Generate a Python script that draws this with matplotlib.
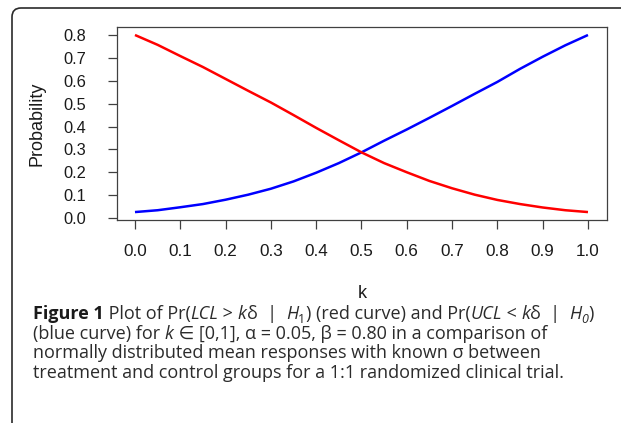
import matplotlib
matplotlib.use("Agg")
import matplotlib.pyplot as plt
from matplotlib.patches import FancyBboxPatch
from matplotlib.transforms import IdentityTransform

# ---------------- data ----------------
k_values = [0.00, 0.05, 0.10, 0.15, 0.20, 0.25, 0.30, 0.35, 0.40, 0.45, 0.50,
            0.55, 0.60, 0.65, 0.70, 0.75, 0.80, 0.85, 0.90, 0.95, 1.00]
red_curve = [0.800, 0.757, 0.708, 0.660, 0.608, 0.556, 0.505, 0.450, 0.394, 0.340, 0.287,
             0.240, 0.200, 0.162, 0.130, 0.102, 0.079, 0.061, 0.046, 0.034, 0.026]
blue_curve = [0.026, 0.034, 0.047, 0.061, 0.080, 0.102, 0.128, 0.160, 0.198, 0.240, 0.287,
              0.338, 0.387, 0.438, 0.490, 0.543, 0.595, 0.652, 0.705, 0.755, 0.800]
x_ticks = [0.0, 0.1, 0.2, 0.3, 0.4, 0.5, 0.6, 0.7, 0.8, 0.9, 1.0]
x_tick_labels = ["0.0", "0.1", "0.2", "0.3", "0.4", "0.5", "0.6", "0.7", "0.8", "0.9", "1.0"]
y_ticks = [0.0, 0.1, 0.2, 0.3, 0.4, 0.5, 0.6, 0.7, 0.8]
y_tick_labels = ["0.0", "0.1", "0.2", "0.3", "0.4", "0.5", "0.6", "0.7", "0.8"]
x_label = "k"
y_label = "Probability"

W, H = 621, 423
fig = plt.figure(figsize=(W / 100, H / 100), dpi=100)
fig.patch.set_facecolor("white")

# outer rounded frame (cut off at right and bottom)
frame = FancyBboxPatch((12, -40), 760, H - 8 + 40,
                       boxstyle="round,pad=0,rounding_size=9",
                       transform=IdentityTransform(), fill=False,
                       ec="#2a2a2a", lw=1.2)
fig.add_artist(frame)

# ---------------- plot ----------------
L, R, T, B = 117, 607, 27, 220
ax = fig.add_axes([L / W, 1 - B / H, (R - L) / W, (B - T) / H])
ax.plot(k_values, blue_curve, color="#0000ff", lw=1.8, solid_capstyle="butt")
ax.plot(k_values, red_curve, color="#ff0000", lw=1.8, solid_capstyle="butt")
ax.set_xlim(-0.0397, 1.042)
ax.set_ylim(-0.0087, 0.835)

tick_font = {"family": ["Liberation Sans", "DejaVu Sans"]}
ax.set_xticks(x_ticks)
ax.set_xticklabels(x_tick_labels, fontsize=12.3, color="#1a1a1a", **tick_font)
ax.set_yticks(y_ticks)
ax.set_yticklabels(y_tick_labels, fontsize=11.8, color="#1a1a1a", **tick_font)
for sp in ax.spines.values():
    sp.set_color("#404040")
    sp.set_linewidth(0.9)
ax.tick_params(axis="x", direction="out", length=6.5, width=0.9, color="#404040", pad=11)
ax.tick_params(axis="y", direction="out", length=6.5, width=0.9, color="#404040", pad=15.5)

ax.set_xlabel(x_label, fontsize=13, color="#1a1a1a", va="center", **tick_font)
ax.xaxis.set_label_coords(0.5, -(293 - B) / (B - T))
ax.set_ylabel(y_label, fontsize=13, color="#1a1a1a", va="center", **tick_font)
ax.yaxis.set_label_coords((37 - L) / (R - L), 0.5)

# ---------------- caption ----------------
renderer = fig.canvas.get_renderer()
cap_family = ["Open Sans", "DejaVu Sans"]
base = dict(family=cap_family, fontsize=13.0, color="#2b2b2b")
reg = dict(base)
bold = dict(base, weight="bold", color="#1a1a1a")
ital = dict(base, style="italic")
sub = dict(base, fontsize=9)
subi = dict(base, fontsize=9, style="italic")


def width_of(s, props):
    t1 = fig.text(0, 0, "|" + s + "|", **props)
    t2 = fig.text(0, 0, "||", **props)
    w = t1.get_window_extent(renderer).width - t2.get_window_extent(renderer).width
    t1.remove()
    t2.remove()
    return w


def draw_runs(y_base, runs, x0=33):
    x = x0
    for text, props, dy in runs:
        fig.text(x / W, 1 - (y_base + dy) / H, text, ha="left", va="baseline", **props)
        x += width_of(text, props)


lines = [
    [("Figure 1", bold, 0), (" Plot of Pr(", reg, 0), ("LCL", ital, 0), (" > ", reg, 0),
     ("k", ital, 0), ("δ  |  ", reg, 0), ("H", ital, 0), ("1", sub, 3.5),
     (") (red curve) and Pr(", reg, 0), ("UCL", ital, 0), (" < ", reg, 0),
     ("k", ital, 0), ("δ  |  ", reg, 0), ("H", ital, 0), ("0", subi, 3.5), (")", reg, 0)],
    [("(blue curve) for ", reg, 0), ("k", ital, 0),
     (" ∈ [0,1], α = 0.05, β = 0.80 in a comparison of", reg, 0)],
    [("normally distributed mean responses with known σ between", reg, 0)],
    [("treatment and control groups for a 1:1 randomized clinical trial.", reg, 0)],
]
baselines = [319, 338.5, 358, 377.5]
for yb, runs in zip(baselines, lines):
    draw_runs(yb, runs)

fig.savefig("out.png", dpi=100, facecolor="white")
